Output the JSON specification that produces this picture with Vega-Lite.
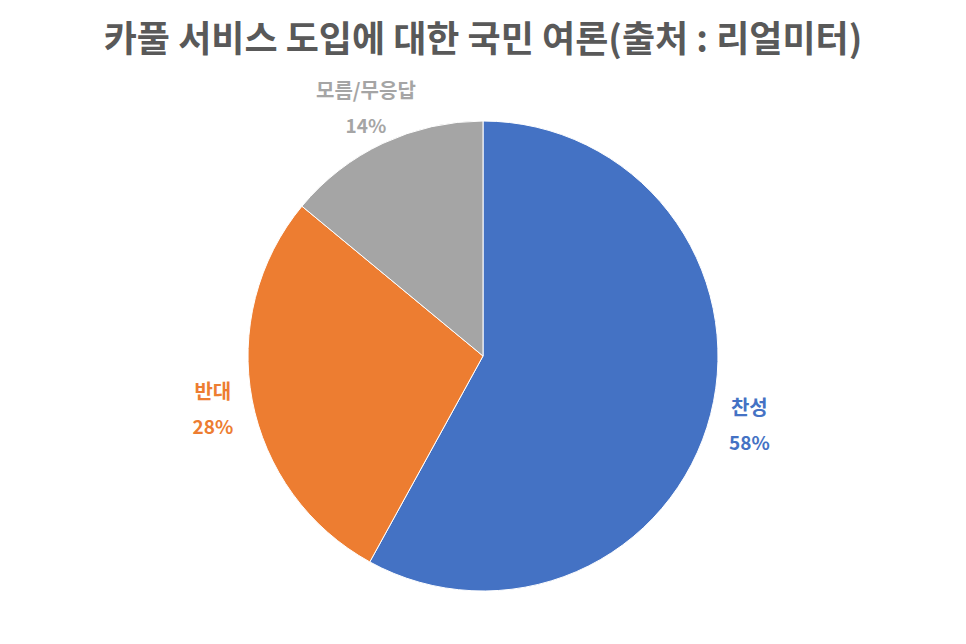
{
  "$schema": "https://vega.github.io/schema/vega-lite/v6.json",
  "description": "카풀 서비스 도입에 대한 국민 여론 파이 차트",
  "width": 966,
  "height": 644,
  "autosize": {"type": "fit", "contains": "padding"},
  "padding": {"top": 23, "left": 0, "right": 0, "bottom": 0},
  "background": "white",
  "title": {
    "text": "카풀 서비스 도입에 대한 국민 여론(출처 : 리얼미터)",
    "font": "Noto Sans CJK KR",
    "fontSize": 36,
    "fontWeight": "bold",
    "color": "#595959",
    "anchor": "middle",
    "offset": 8
  },
  "data": {
    "values": [
      {"category": "찬성", "share": 0.58, "order": 1},
      {"category": "반대", "share": 0.28, "order": 2},
      {"category": "모름/무응답", "share": 0.14, "order": 3}
    ]
  },
  "encoding": {
    "theta": {"field": "share", "type": "quantitative", "stack": true},
    "order": {"field": "order", "type": "quantitative"},
    "color": {
      "field": "category",
      "type": "nominal",
      "scale": {
        "domain": ["찬성", "반대", "모름/무응답"],
        "range": ["#4472C4", "#ED7D31", "#A5A5A5"]
      },
      "legend": null
    }
  },
  "layer": [
    {
      "mark": {"type": "arc", "outerRadius": 235, "stroke": "white", "strokeWidth": 1}
    },
    {
      "mark": {"type": "text", "radius": 275, "dy": -15, "font": "Noto Sans CJK KR", "fontSize": 20, "fontWeight": "bold"},
      "encoding": {"text": {"field": "category"}}
    },
    {
      "mark": {"type": "text", "radius": 275, "dy": 20, "font": "Noto Sans CJK KR", "fontSize": 19, "fontWeight": "bold"},
      "encoding": {"text": {"field": "share", "type": "quantitative", "format": ".0%"}}
    }
  ],
  "config": {"view": {"stroke": null}}
}
